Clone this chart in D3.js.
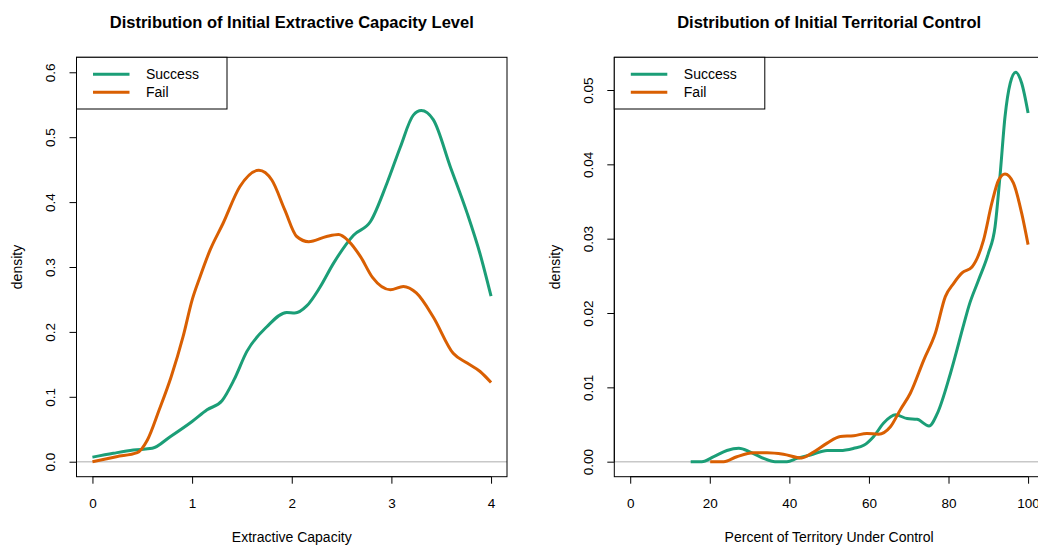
<!DOCTYPE html>
<html>
<head>
<meta charset="utf-8">
<script src="https://cdn.jsdelivr.net/npm/d3@7"></script>
<style>
  body { margin: 0; background: #fff; }
  svg { display: block; font-family: "Liberation Sans", Arial, Helvetica, sans-serif; }
</style>
</head>
<body>
<svg id="chart" width="1038" height="546"></svg>
<script>
// --- Data ---
const legendLabels = ["Success", "Fail"];
const seriesColors = ["#1B9E77", "#D95F02"];

// panel 1: extractive capacity
const capSuccessX = [0, 0.21, 0.41, 0.6, 0.78, 1.0, 1.15, 1.3, 1.42, 1.55, 1.75, 1.95, 2.03, 2.15, 2.28, 2.42, 2.62, 2.79, 2.96, 3.09, 3.22, 3.3, 3.42, 3.59, 3.76, 3.89, 4.0];
const capSuccessY = [0.007, 0.013, 0.018, 0.0206, 0.0385, 0.062, 0.08, 0.094, 0.126, 0.17, 0.208, 0.23, 0.229, 0.24, 0.268, 0.306, 0.349, 0.37, 0.431, 0.485, 0.534, 0.541, 0.527, 0.455, 0.383, 0.32, 0.255];
const capFailX = [0, 0.24, 0.45, 0.55, 0.67, 0.79, 0.91, 1.0, 1.08, 1.18, 1.31, 1.48, 1.67, 1.8, 1.93, 2.05, 2.17, 2.35, 2.47, 2.57, 2.69, 2.81, 2.99, 3.12, 3.25, 3.42, 3.62, 3.76, 3.89, 4.0];
const capFailY = [0.0, 0.0077, 0.0139, 0.033, 0.08, 0.131, 0.193, 0.249, 0.285, 0.326, 0.367, 0.424, 0.449, 0.434, 0.388, 0.347, 0.339, 0.347, 0.35, 0.34, 0.316, 0.284, 0.265, 0.27, 0.26, 0.223, 0.167, 0.152, 0.139, 0.122];
const capTicksX = [0, 1, 2, 3, 4];
const capTicksY = [0, 0.1, 0.2, 0.3, 0.4, 0.5, 0.6];

// panel 2: territorial control
const terSuccessX = [15.2, 18, 21, 24.3, 27.3, 30.2, 33.5, 36.4, 39.4, 41.9, 45.3, 49.5, 52.8, 56.2, 58.7, 61.2, 63.7, 66.7, 69.6, 72.1, 75.1, 77.2, 80.5, 83.9, 85.1, 87.6, 90, 91.7, 93, 94.2, 95.5, 96.9, 98.4, 100];
const terSuccessY = [0, 0, 0.00067, 0.0015, 0.0018, 0.0013, 0.00045, 0, 0, 0.00045, 0.0009, 0.0015, 0.0015, 0.0018, 0.0022, 0.0034, 0.0052, 0.0063, 0.0058, 0.0057, 0.0048, 0.0065, 0.0119, 0.0186, 0.0209, 0.0245, 0.028, 0.0316, 0.0388, 0.0464, 0.0509, 0.0524, 0.0509, 0.0469];
const terFailX = [20.1, 23.5, 26.8, 31, 34.4, 38.5, 43.1, 46.1, 49.5, 52.8, 56.2, 59.5, 62.4, 65.4, 67.9, 70.4, 73.8, 76.7, 79.2, 81.3, 83.4, 85.9, 88.8, 90.9, 92.6, 94.2, 96.3, 98.4, 100];
const terFailY = [0, 0, 0.00067, 0.0012, 0.0012, 0.001, 0.0005, 0.0013, 0.0025, 0.0034, 0.0035, 0.0038, 0.0037, 0.0047, 0.007, 0.0092, 0.0137, 0.0173, 0.0222, 0.024, 0.0254, 0.0262, 0.0298, 0.0348, 0.0379, 0.0387, 0.0375, 0.0334, 0.0292];
const terTicksX = [0, 20, 40, 60, 80, 100];
const terTicksY = [0, 0.01, 0.02, 0.03, 0.04, 0.05];

const zip = (xs, ys) => xs.map((x, i) => [x, ys[i]]);

const svg = d3.select("#chart");

function drawPanel(opt) {
    const { left, right, top, bottom } = opt.box;

    const x = d3.scaleLinear().domain(opt.xDomain).range([left, right]);
    const y = d3.scaleLinear().domain(opt.yDomain).range([bottom, top]);

    const g = svg.append("g");

    // grey zero line
    g.append("line")
        .attr("x1", left).attr("x2", right)
        .attr("y1", y(0)).attr("y2", y(0))
        .attr("stroke", "#c8c8c8")
        .attr("stroke-width", 1.5);

    // density curves
    const line = d3.line()
        .x(d => x(d[0]))
        .y(d => y(d[1]))
        .curve(d3.curveMonotoneX);

    opt.series.forEach((s, i) => {
        g.append("path")
            .datum(s)
            .attr("fill", "none")
            .attr("stroke", seriesColors[i])
            .attr("stroke-width", 3)
            .attr("stroke-linejoin", "round")
            .attr("d", line);
    });

    // plot box
    g.append("rect")
        .attr("x", left).attr("y", top)
        .attr("width", right - left).attr("height", bottom - top)
        .attr("fill", "none")
        .attr("stroke", "#000")
        .attr("stroke-width", 1);

    // x axis (R style: line only between first and last tick)
    const xAxis = g.append("g")
        .attr("transform", `translate(0,${bottom})`)
        .call(d3.axisBottom(x).tickValues(opt.xTicks).tickFormat(d3.format("d"))
            .tickSize(7).tickPadding(15).tickSizeOuter(0));
    xAxis.select(".domain").attr("d", `M${x(opt.xTicks[0])},0H${x(opt.xTicks[opt.xTicks.length - 1])}`);
    xAxis.selectAll("text").style("font-size", "13.5px").style("fill", "#000").attr("dy", "0.71em");

    // y axis with rotated labels
    const yAxis = g.append("g")
        .attr("transform", `translate(${left},0)`)
        .call(d3.axisLeft(y).tickValues(opt.yTicks).tickSize(7).tickFormat(opt.yFormat).tickSizeOuter(0));
    yAxis.select(".domain").attr("d", `M0,${y(opt.yTicks[0])}V${y(opt.yTicks[opt.yTicks.length - 1])}`);
    yAxis.selectAll("text")
        .attr("x", null)
        .attr("text-anchor", "middle")
        .attr("transform", "translate(-26,0) rotate(-90)")
        .attr("dy", "0.35em")
        .style("font-size", "13.5px")
        .style("fill", "#000");

    // titles
    g.append("text")
        .attr("x", (left + right) / 2).attr("y", 28)
        .attr("text-anchor", "middle")
        .style("font-size", "16.5px")
        .style("font-weight", "bold")
        .text(opt.title);

    g.append("text")
        .attr("x", (left + right) / 2).attr("y", 542)
        .attr("text-anchor", "middle")
        .style("font-size", "14px")
        .text(opt.xLabel);

    g.append("text")
        .attr("transform", `translate(${left - 59.5},${(top + bottom) / 2}) rotate(-90)`)
        .attr("text-anchor", "middle")
        .attr("dy", "0.35em")
        .style("font-size", "14px")
        .text("density");

    // legend
    const leg = g.append("g").attr("transform", `translate(${left},${top})`);
    leg.append("rect")
        .attr("width", 150.5).attr("height", 51.7)
        .attr("fill", "#fff")
        .attr("stroke", "#000");
    legendLabels.forEach((lab, i) => {
        const ly = 17 + i * 18;
        leg.append("line")
            .attr("x1", 16.5).attr("x2", 53)
            .attr("y1", ly).attr("y2", ly)
            .attr("stroke", seriesColors[i])
            .attr("stroke-width", 3);
        leg.append("text")
            .attr("x", 69.5).attr("y", ly)
            .attr("dy", "0.35em")
            .style("font-size", "14px")
            .text(lab);
    });
}

drawPanel({
    box: { left: 76.5, right: 507, top: 57.3, bottom: 476.7 },
    xDomain: [-0.16, 4.16],
    yDomain: [-0.0231, 0.6231],
    xTicks: capTicksX,
    yTicks: capTicksY,
    yFormat: d3.format(".1f"),
    series: [zip(capSuccessX, capSuccessY), zip(capFailX, capFailY)],
    title: "Distribution of Initial Extractive Capacity Level",
    xLabel: "Extractive Capacity"
});

drawPanel({
    box: { left: 614.3, right: 1044, top: 57.3, bottom: 476.7 },
    xDomain: [-4, 104],
    yDomain: [-0.00202, 0.0544],
    xTicks: terTicksX,
    yTicks: terTicksY,
    yFormat: d3.format(".2f"),
    series: [zip(terSuccessX, terSuccessY), zip(terFailX, terFailY)],
    title: "Distribution of Initial Territorial Control",
    xLabel: "Percent of Territory Under Control"
});
</script>
</body>
</html>
